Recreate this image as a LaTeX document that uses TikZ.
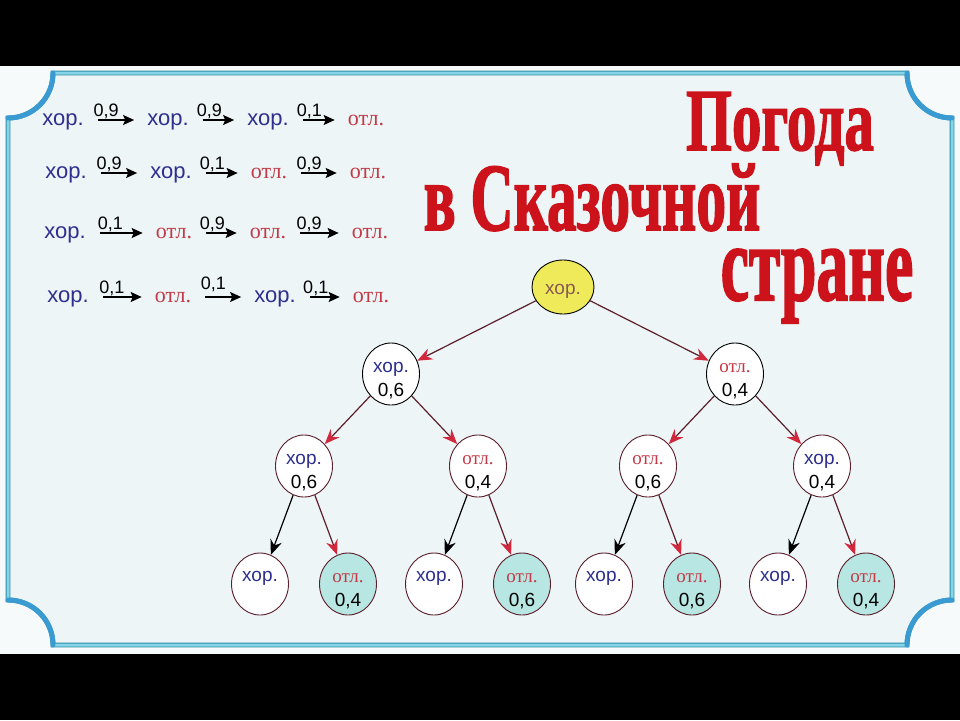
\documentclass[tikz,border=0pt]{standalone}
\usepackage{fontspec}
\setmainfont{Liberation Sans}
\newfontfamily\otlfont{Liberation Serif}
\newfontfamily\titlefont{Liberation Serif}[FakeBold=2]
\usetikzlibrary{arrows.meta,shapes.geometric}
\definecolor{horcol}{HTML}{2E2F8E}
\definecolor{otlcol}{HTML}{C23A48}
\definecolor{titlered}{HTML}{CC121B}
\definecolor{redline}{HTML}{5C1E2A}
\definecolor{redtip}{HTML}{D2283E}
\definecolor{framedark}{HTML}{2A8CA6}
\definecolor{framelight}{HTML}{86D4E8}
\definecolor{cornerblue}{HTML}{3A9AD2}
\definecolor{paper}{HTML}{EDF5F6}
\definecolor{outside}{HTML}{F6FAFA}
\definecolor{leafcol}{HTML}{B8E6E2}
\definecolor{rootcol}{HTML}{EEEA5A}
\definecolor{roottext}{HTML}{8A5A52}
\newcommand{\hor}{\textcolor{horcol}{хор.}}
\newcommand{\otl}{\textcolor{otlcol}{\otlfont отл.}}
\begin{document}
\begin{tikzpicture}[x=1pt, y=-1pt,
  word/.style={inner sep=0pt, text height=11.5pt, text depth=0pt, font=\fontsize{22}{22}\selectfont},
  seq/.style={line width=1.3pt, -{Stealth[length=11pt,width=10pt,inset=2pt]}, shorten <=14pt, shorten >=13pt},
  prob/.style={font=\fontsize{18}{18}\selectfont, inner sep=1pt, above=0pt, pos=0.35},
  title/.style={font=\titlefont\bfseries, text=titlered, inner sep=0pt, anchor=base},
  corner/.style={cornerblue, line width=5pt, line cap=round},
  state/.style={ellipse, draw, line width=0.9pt, fill=white, minimum width=57pt, minimum height=62pt, inner sep=0pt},
  leaf/.style={state, fill=leafcol},
  lab/.style={align=center, inner sep=0pt, font=\fontsize{19}{24}\selectfont},
  two/.style={label={[lab, yshift=-7pt]center:{#1}}},
  one/.style={label={[lab, yshift=6pt]center:{#1}}},
  rededge/.style={draw=redline, line width=1.2pt, -{Stealth[length=15pt,width=12pt,inset=5pt,color=redtip]}},
  blackedge/.style={draw=black, line width=1.2pt, -{Stealth[length=15pt,width=12pt,inset=5pt,color=black]}},
  edge from parent/.style={rededge},
  level 1/.style={sibling distance=344pt, level distance=87pt},
  level 2/.style={sibling distance=174pt, level distance=92pt},
  level 3/.style={sibling distance=88pt, level distance=118pt}
]
\useasboundingbox (0,0) rectangle (960,720);
\fill[outside] (0,0) rectangle (960,720);
\fill[black] (0,0) rectangle (960,66);
\fill[black] (0,654) rectangle (960,720);
\path[fill=paper, draw=framedark, double=framelight, double distance=3pt, line width=0.9pt]
  (53,73) -- (907,73) .. controls (907,98) and (927,118) .. (952,118)
  -- (952,600) .. controls (927,600) and (907,620) .. (907,645)
  -- (53,645) .. controls (53,620) and (33,600) .. (8,600)
  -- (8,118) .. controls (33,118) and (53,98) .. (53,73) -- cycle;
\draw[corner] (8,118) .. controls (33,118) and (53,98) .. (53,73);
\draw[corner] (907,73) .. controls (907,98) and (927,118) .. (952,118);
\draw[corner] (952,600) .. controls (927,600) and (907,620) .. (907,645);
\draw[corner] (53,645) .. controls (53,620) and (33,600) .. (8,600);

\node[title] (t1) at (780,150) {\fontsize{88}{88}\selectfont\scalebox{0.67}[1]{Погода}};
\node[title] (t2) at (592,230) {\fontsize{96}{96}\selectfont\scalebox{0.62}[1]{в Сказочной}};
\node[title] (t3) at (817,300) {\fontsize{108}{108}\selectfont\scalebox{0.59}[1]{стране}};

\node[word] (a1) at (63,120) {\hor};
\node[word] (a2) at (168,120) {\hor};
\node[word] (a3) at (268,120) {\hor};
\node[word] (a4) at (366,120) {\otl};
\draw[seq] (a1) -- node[prob] {0,9} (a2);
\draw[seq] (a2) -- node[prob] {0,9} (a3);
\draw[seq] (a3) -- node[prob] {0,1} (a4);

\node[word] (b1) at (66,173) {\hor};
\node[word] (b2) at (171,173) {\hor};
\node[word] (b3) at (269,173) {\otl};
\node[word] (b4) at (368,173) {\otl};
\draw[seq] (b1) -- node[prob] {0,9} (b2);
\draw[seq] (b2) -- node[prob] {0,1} (b3);
\draw[seq] (b3) -- node[prob] {0,9} (b4);

\node[word] (c1) at (65,233) {\hor};
\node[word] (c2) at (174,233) {\otl};
\node[word] (c3) at (268,233) {\otl};
\node[word] (c4) at (370,233) {\otl};
\draw[seq] (c1) -- node[prob] {0,1} (c2);
\draw[seq] (c2) -- node[prob] {0,9} (c3);
\draw[seq] (c3) -- node[prob] {0,9} (c4);

\node[word] (d1) at (68,297) {\hor};
\node[word] (d2) at (173,297) {\otl};
\node[word] (d3) at (275,297) {\hor};
\node[word] (d4) at (371,297) {\otl};
\draw[seq] (d1) -- node[prob] {0,1} (d2);
\draw[seq] (d2) -- node[prob, above=4pt] {0,1} (d3);
\draw[seq] (d3) -- node[prob] {0,1} (d4);

\node[state, fill=rootcol, minimum width=62pt, minimum height=54pt,
      label={[lab, text=roottext, yshift=-4pt]center:хор.}] (root) at (563,287) {}
  child { node[state, two={\hor\\0,6}] (h) {}
    child { node[state, two={\hor\\0,6}] (hh) {}
      child { node[state, one=\hor] (hhh) {} edge from parent[blackedge] }
      child { node[leaf, two={\otl\\0,4}] (hho) {} }
    }
    child { node[state, two={\otl\\0,4}] (ho) {}
      child { node[state, one=\hor] (hoh) {} edge from parent[blackedge] }
      child { node[leaf, two={\otl\\0,6}] (hoo) {} }
    }
  }
  child { node[state, two={\otl\\0,4}] (o) {}
    child { node[state, two={\otl\\0,6}] (oo) {}
      child { node[state, one=\hor] (ooh) {} edge from parent[blackedge] }
      child { node[leaf, two={\otl\\0,6}] (ooo) {} }
    }
    child { node[state, two={\hor\\0,4}] (oh) {}
      child { node[state, one=\hor] (ohh) {} edge from parent[blackedge] }
      child { node[leaf, two={\otl\\0,4}] (oho) {} }
    }
  };
\end{tikzpicture}
\end{document}
